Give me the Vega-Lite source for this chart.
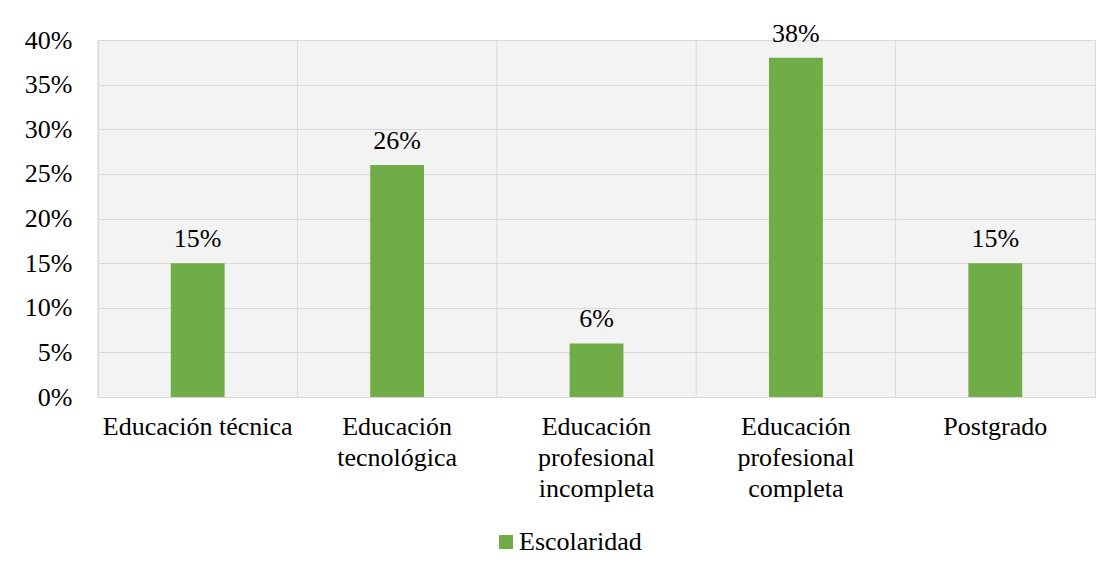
{
  "$schema": "https://vega.github.io/schema/vega-lite/v6.json",
  "width": 997,
  "height": 357,
  "autosize": "none",
  "padding": {"left": 98, "top": 40, "right": 15, "bottom": 174},
  "background": "white",
  "config": {
    "font": "Liberation Serif",
    "view": {"fill": "#f3f3f3", "stroke": "#d9d9d9", "strokeWidth": 1}
  },
  "data": {
    "values": [
      {"nivel": "Educación técnica", "pct": 0.15, "serie": "Escolaridad"},
      {"nivel": "Educación tecnológica", "pct": 0.26, "serie": "Escolaridad"},
      {"nivel": "Educación profesional incompleta", "pct": 0.06, "serie": "Escolaridad"},
      {"nivel": "Educación profesional completa", "pct": 0.38, "serie": "Escolaridad"},
      {"nivel": "Postgrado", "pct": 0.15, "serie": "Escolaridad"}
    ]
  },
  "encoding": {
    "x": {
      "field": "nivel", "type": "nominal", "sort": null,
      "scale": {"type": "band", "paddingInner": 0.73, "paddingOuter": 0.365},
      "axis": {
        "title": null, "domain": false, "ticks": false, "tickSize": 0, "grid": false,
        "labelAngle": 0, "labelFontSize": 26, "labelColor": "#000000", "labelFont": "Liberation Serif",
        "labelPadding": 16, "labelLineHeight": 31, "labelBaseline": "top", "labelLimit": 0,
        "labelExpr": "datum.value == 'Educación técnica' ? datum.value : split(datum.value, ' ')"
      }
    },
    "y": {
      "field": "pct", "type": "quantitative",
      "scale": {"domain": [0, 0.4], "nice": false},
      "axis": {
        "title": null, "values": [0, 0.05, 0.1, 0.15, 0.2, 0.25, 0.3, 0.35, 0.4],
        "format": ".0%", "grid": true, "gridColor": "#d9d9d9", "gridWidth": 1,
        "domain": false, "ticks": false, "tickSize": 0, "labelPadding": 26,
        "labelFontSize": 26, "labelColor": "#000000", "labelFont": "Liberation Serif"
      }
    }
  },
  "layer": [
    {
      "mark": {"type": "rule", "color": "#d9d9d9", "strokeWidth": 1},
      "encoding": {
        "x": {
          "field": "nivel", "type": "nominal", "sort": null, "bandPosition": -1.352,
          "scale": {"type": "band", "paddingInner": 0.73, "paddingOuter": 0.365},
          "axis": {
            "title": null, "domain": false, "ticks": false, "tickSize": 0, "grid": false,
            "labelAngle": 0, "labelFontSize": 26, "labelColor": "#000000", "labelFont": "Liberation Serif",
            "labelPadding": 16, "labelLineHeight": 31, "labelBaseline": "top", "labelLimit": 0,
            "labelExpr": "datum.value == 'Educación técnica' ? datum.value : split(datum.value, ' ')"
          }
        },
        "y": null
      }
    },
    {
      "mark": {"type": "bar", "color": "#70AD47"},
      "encoding": {
        "color": {
          "field": "serie", "type": "nominal",
          "scale": {"range": ["#70AD47"]},
          "legend": {
            "title": null, "orient": "none", "legendX": 395, "legendY": 489, "padding": 0,
            "symbolType": "square", "symbolSize": 196, "symbolStrokeWidth": 0,
            "labelFontSize": 26, "labelFont": "Liberation Serif", "labelColor": "#000000", "labelOffset": 0
          }
        }
      }
    },
    {
      "mark": {"type": "text", "baseline": "alphabetic", "dy": -16, "fontSize": 26, "font": "Liberation Serif", "color": "#000000"},
      "encoding": {
        "text": {"field": "pct", "type": "quantitative", "format": ".0%"}
      }
    }
  ]
}
